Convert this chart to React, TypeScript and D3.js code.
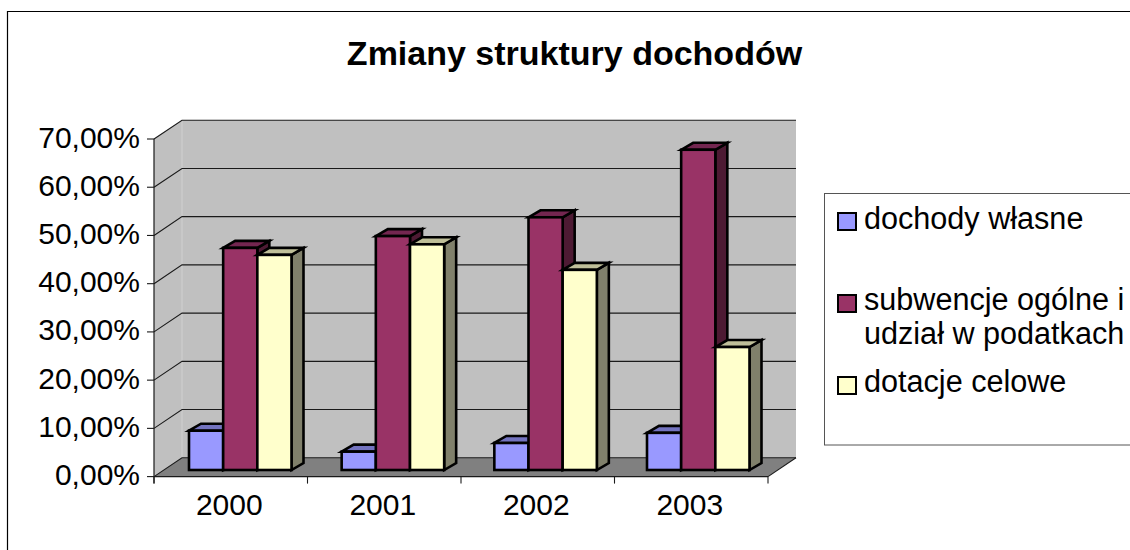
import React from "react";
import * as d3 from "d3";

const title = "Zmiany struktury dochodów";
const categories = ["2000", "2001", "2002", "2003"];
const seriesNames = ["dochody własne", "subwencje ogólne i udział w podatkach", "dotacje celowe"];
const dochodyWlasne = [8.15, 3.8, 5.6, 7.7];
const subwencje = [46.05, 48.5, 52.4, 66.4];
const dotacje = [44.6, 46.8, 41.5, 25.5];
const tickValues = [0, 10, 20, 30, 40, 50, 60, 70];
const faceColors = ["#9999ff", "#993366", "#ffffcc"];
const topColors = ["#7373bf", "#732650", "#bfbf99"];
const sideColors = ["#4d4d80", "#4d1a33", "#80806b"];

const W = 1130, H = 550;
const FONT = "'Liberation Sans', Arial, sans-serif";
const DX = 28, DY = -18.8;      // wall depth
const BDX = 12, BDY = -7;       // bar depth
const BAR_SHIFT = -6.6;         // bars sit forward on the floor

const y = d3.scaleLinear().domain([0, 70]).range([476.6, 139]);
const xAxis = d3.scaleBand<string>().domain(categories).range([154, 768]);
const xGroup = d3.scalePoint<string>().domain(categories).range([189, 647]);
const xSeries = d3.scaleBand<number>().domain([0, 1, 2]).range([0, 102.5]);

const poly = (pts: [number, number][]) => pts.map((p) => p.join(",")).join(" ");

export default function App() {
  const x0 = xAxis.range()[0], x1 = xAxis.range()[1];
  const yb = y(0), yt = y(70);
  const rows = [dochodyWlasne, subwencje, dotacje];

  return (
    <svg width={W} height={H} style={{ position: "absolute", left: 0, top: 0, background: "#fff" }} fontFamily={FONT}>
      <path d={`M7.5,${H}V11.5H${W}`} fill="none" stroke="#000" strokeWidth={1.2} />
      <text x={574.5} y={65} textAnchor="middle" fontSize={34} fontWeight="bold" fill="#000">{title}</text>

      {/* walls */}
      <polygon points={poly([[x0 + DX, yt + DY], [x1 + DX, yt + DY], [x1 + DX, yb + DY], [x0 + DX, yb + DY]])} fill="#c0c0c0" />
      <polygon points={poly([[x0, yt], [x0 + DX, yt + DY], [x0 + DX, yb + DY], [x0, yb]])} fill="#c0c0c0" />
      <polygon points={poly([[x0, yb], [x0 + DX, yb + DY], [x1 + DX, yb + DY], [x1, yb]])} fill="#808080" />
      <line x1={x0 + DX} x2={x0 + DX} y1={yt + DY} y2={yb + DY} stroke="#d0d0d0" strokeWidth={1} />

      {/* gridlines */}
      {tickValues.map((v) => (
        <g key={v} stroke="#1a1a1a" strokeWidth={1.1} fill="none">
          <polyline points={poly([[x0, y(v)], [x0 + DX, y(v) + DY], [x1 + DX, y(v) + DY]])} />
        </g>
      ))}
      <polyline points={poly([[x1, yb], [x1 + DX, yb + DY]])} stroke="#1a1a1a" strokeWidth={1.1} fill="none" />

      {/* axes */}
      <line x1={x0} x2={x0} y1={yt} y2={yb + 7} stroke="#1a1a1a" strokeWidth={1.2} />
      <line x1={x0} x2={x1} y1={yb} y2={yb} stroke="#1a1a1a" strokeWidth={1.2} />
      {tickValues.map((v) => (
        <g key={v}>
          <line x1={x0 - 7} x2={x0} y1={y(v)} y2={y(v)} stroke="#1a1a1a" strokeWidth={1.1} />
          <text x={140} y={y(v) + 8.5} textAnchor="end" fontSize={30} fill="#000">{v.toFixed(2).replace(".", ",")}%</text>
        </g>
      ))}
      {categories.map((c) => (
        <g key={c}>
          <line x1={xAxis(c)!} x2={xAxis(c)!} y1={yb} y2={yb + 7} stroke="#1a1a1a" strokeWidth={1.1} />
          <text x={xAxis(c)! + xAxis.bandwidth() / 2 - 1.5} y={514.5} textAnchor="middle" fontSize={30} fill="#000">{c}</text>
        </g>
      ))}
      <line x1={x1} x2={x1} y1={yb} y2={yb + 7} stroke="#1a1a1a" strokeWidth={1.1} />

      {/* bars */}
      {categories.map((c, ci) => (
        <g key={c} stroke="#000" strokeWidth={2.6} strokeLinejoin="miter">
          {rows.map((vals, si) => {
            const l = xGroup(c)! + xSeries(si)!;
            const r = l + xSeries.bandwidth();
            const t = y(vals[ci]) + BAR_SHIFT;
            const b = y(0) + BAR_SHIFT;
            return (
              <g key={si}>
                <polygon fill={sideColors[si]} points={poly([[r, t], [r + BDX, t + BDY], [r + BDX, b + BDY], [r, b]])} />
                <polygon fill={topColors[si]} points={poly([[l, t], [l + BDX, t + BDY], [r + BDX, t + BDY], [r, t]])} />
                <rect x={l} y={t} width={r - l} height={b - t} fill={faceColors[si]} />
              </g>
            );
          })}
        </g>
      ))}

      {/* legend */}
      <rect x={824.5} y={193.5} width={W} height={251.5} fill="#fff" stroke="#555" strokeWidth={1} />
      <g stroke="#000" strokeWidth={2}>
        <rect x={838} y={213} width={18} height={17} fill={faceColors[0]} />
        <rect x={838} y={295} width={18} height={17} fill={faceColors[1]} />
        <rect x={838} y={377} width={18} height={17} fill={faceColors[2]} />
      </g>
      <g fontSize={30.6} fill="#000">
        <text x={864} y={228.5}>{seriesNames[0]}</text>
        <text x={864} y={309.5}>subwencje ogólne i</text>
        <text x={864} y={343.5}>udział w podatkach</text>
        <text x={864} y={391.5}>{seriesNames[2]}</text>
      </g>
    </svg>
  );
}
